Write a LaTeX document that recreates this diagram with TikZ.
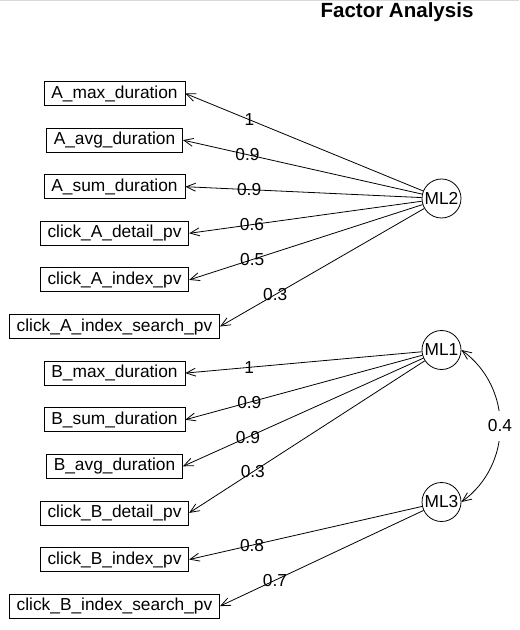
\documentclass[tikz,border=0pt]{standalone}
\usepackage{fontspec}
\setmainfont{Liberation Sans}
\usetikzlibrary{arrows.meta}

\begin{document}
\begin{tikzpicture}[x=0.75pt, y=-0.75pt,
    font=\fontsize{13}{15}\selectfont,
    var/.style={draw, line width=0.6pt, inner xsep=5.5pt, inner ysep=2.8pt, text height=9.6pt, text depth=2.8pt},
    fac/.style={draw, circle, line width=0.6pt, inner sep=0pt, minimum size=29.25pt},
    load/.style={-{Straight Barb[length=7pt,width=6pt]}, line width=0.6pt},
    wt/.style={pos=0.73, inner sep=0pt}]
  \useasboundingbox (0,0) rectangle (519,630);
  \draw[gray!30] (0,0.5) -- (519,0.5);
  \node[font=\bfseries\fontsize{15.4}{18}\selectfont] (title) at (397,12.5) {Factor Analysis};

  % latent factors
  \node[fac] (ML2) at (441.5,198.5) {ML2};
  \node[fac] (ML1) at (441.5,350) {ML1};
  \node[fac] (ML3) at (441.5,502) {ML3};

  % observed variables
  \node[var] (amax) at (114.5,93.5) {A\_max\_duration};
  \node[var] (aavg) at (114.5,140.1) {A\_avg\_duration};
  \node[var] (asum) at (114.5,186.7) {A\_sum\_duration};
  \node[var] (adet) at (114.5,233.3) {click\_A\_detail\_pv};
  \node[var] (aidx) at (114.5,279.9) {click\_A\_index\_pv};
  \node[var] (asrch) at (114.5,326.5) {click\_A\_index\_search\_pv};
  \node[var] (bmax) at (114.5,373.1) {B\_max\_duration};
  \node[var] (bsum) at (114.5,419.7) {B\_sum\_duration};
  \node[var] (bavg) at (114.5,466.3) {B\_avg\_duration};
  \node[var] (bdet) at (114.5,512.9) {click\_B\_detail\_pv};
  \node[var] (bidx) at (114.5,559.5) {click\_B\_index\_pv};
  \node[var] (bsrch) at (114.5,606.1) {click\_B\_index\_search\_pv};

  % loadings
  \draw[load] (ML2) -- node[wt] {1} (amax.east);
  \draw[load] (ML2) -- node[wt] {0.9} (aavg.east);
  \draw[load] (ML2) -- node[wt] {0.9} (asum.east);
  \draw[load] (ML2) -- node[wt] {0.6} (adet.east);
  \draw[load] (ML2) -- node[wt] {0.5} (aidx.east);
  \draw[load] (ML2) -- node[wt] {0.3} (asrch.east);
  \draw[load] (ML1) -- node[wt] {1} (bmax.east);
  \draw[load] (ML1) -- node[wt] {0.9} (bsum.east);
  \draw[load] (ML1) -- node[wt] {0.9} (bavg.east);
  \draw[load] (ML1) -- node[wt] {0.3} (bdet.east);
  \draw[load] (ML3) -- node[wt] {0.8} (bidx.east);
  \draw[load] (ML3) -- node[wt] {0.7} (bsrch.east);

  % factor correlation
  \draw[{Straight Barb[length=7pt,width=6pt]}-{Straight Barb[length=7pt,width=6pt]}, line width=0.6pt]
    (ML1.east) .. controls +(51.5,37.4) and +(51.5,-37.4) .. node[fill=white, inner xsep=2pt, inner ysep=7pt] {0.4} (ML3.east);
\end{tikzpicture}
\end{document}
